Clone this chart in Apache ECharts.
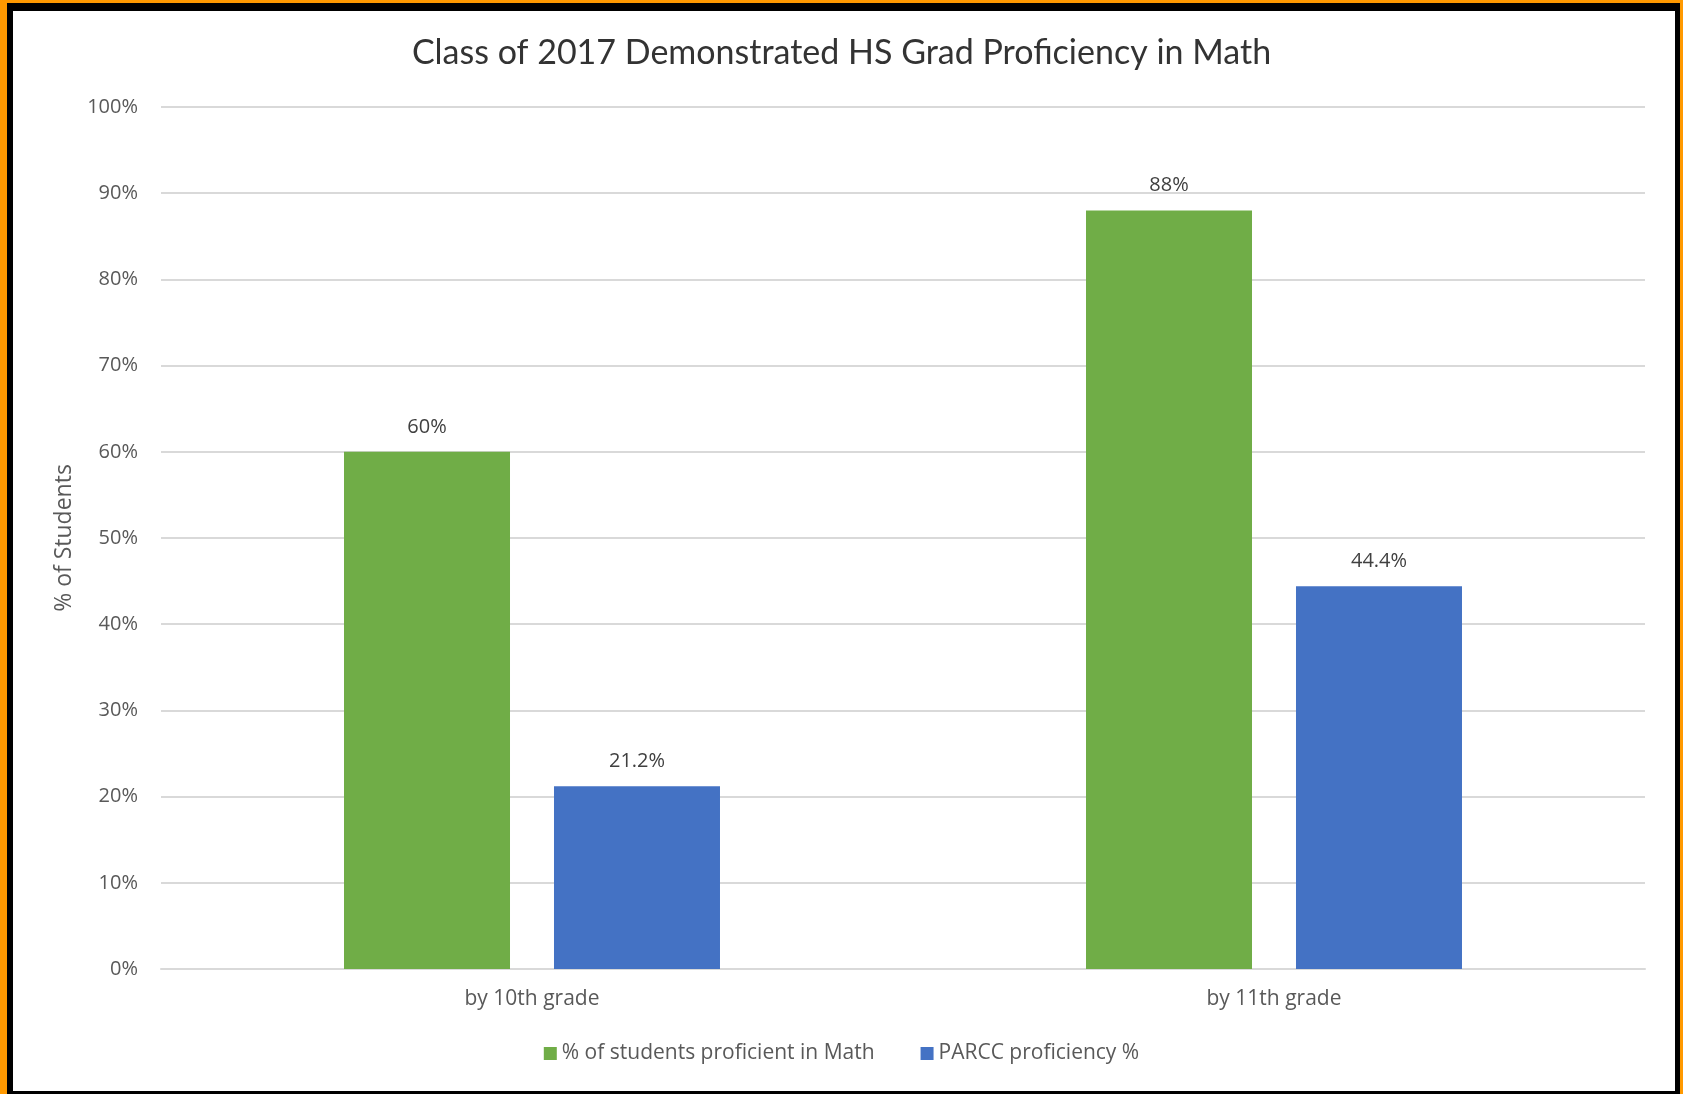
<!DOCTYPE html>
<html>
<head>
<meta charset="utf-8">
<script src="https://cdn.jsdelivr.net/npm/echarts@6/dist/echarts.min.js"></script>
<style>
html,body{margin:0;padding:0;width:1683px;height:1094px;overflow:hidden;background:#FF9900;}
#frame{position:absolute;left:7px;top:3px;width:1673px;height:1091px;background:#000;}
#paper{position:absolute;left:13px;top:11px;width:1662px;height:1080px;background:#fff;}
#chart{position:absolute;left:0;top:0;width:1683px;height:1094px;}
</style>
</head>
<body>
<div id="frame"></div>
<div id="paper"></div>
<div id="chart"></div>
<script>
const categories = ['by 10th grade', 'by 11th grade'];
const mathProficient = [60, 88];
const parccProficiency = [21.2, 44.4];
const seriesNames = ['% of students proficient in Math', 'PARCC proficiency %'];
const yTicks = { min: 0, max: 100, interval: 10 };

const TFONT = 'Lato, "Open Sans", sans-serif';
const FONT = '"Open Sans", Lato, sans-serif';
const chart = echarts.init(document.getElementById('chart'), null, { renderer: 'canvas' });
const labelStyle = {
  show: true, position: 'top', distance: 15,
  formatter: p => p.value + '%',
  color: '#404040', fontSize: 20, fontFamily: FONT
};
chart.setOption({
  backgroundColor: 'transparent',
  animation: false,
  title: {
    text: 'Class of 2017 Demonstrated HS Grad Proficiency in Math',
    left: 'center', top: 31,
    textStyle: { color: '#333333', fontSize: 34, fontWeight: 'normal', fontFamily: TFONT }
  },
  legend: {
    bottom: 25, left: 'center',
    itemWidth: 13, itemHeight: 13, itemGap: 46,
    icon: 'rect',
    textStyle: { color: '#595959', fontSize: 21, fontFamily: FONT }
  },
  grid: { left: 161, right: 38, top: 107, bottom: 125, containLabel: false },
  xAxis: {
    type: 'category', data: categories,
    axisLine: { lineStyle: { color: '#D9D9D9', width: 2 } },
    axisTick: { show: false },
    axisLabel: { color: '#595959', fontSize: 21, fontFamily: FONT, margin: 20 }
  },
  yAxis: {
    type: 'value', min: yTicks.min, max: yTicks.max, interval: yTicks.interval,
    name: '% of Students', nameLocation: 'middle', nameGap: 84, nameRotate: 90,
    nameTextStyle: { color: '#595959', fontSize: 23, fontFamily: FONT },
    axisLine: { show: false }, axisTick: { show: false },
    axisLabel: { formatter: v => v + '%', color: '#595959', fontSize: 20, fontFamily: FONT, margin: 23 },
    splitLine: { lineStyle: { color: '#D9D9D9', width: 2 } }
  },
  series: [
    { name: seriesNames[0], type: 'bar', data: mathProficient, barWidth: 166, barGap: '26.5%',
      itemStyle: { color: '#70AD47' }, label: labelStyle },
    { name: seriesNames[1], type: 'bar', data: parccProficiency, barWidth: 166,
      itemStyle: { color: '#4472C4' }, label: labelStyle }
  ]
});
</script>
</body>
</html>
